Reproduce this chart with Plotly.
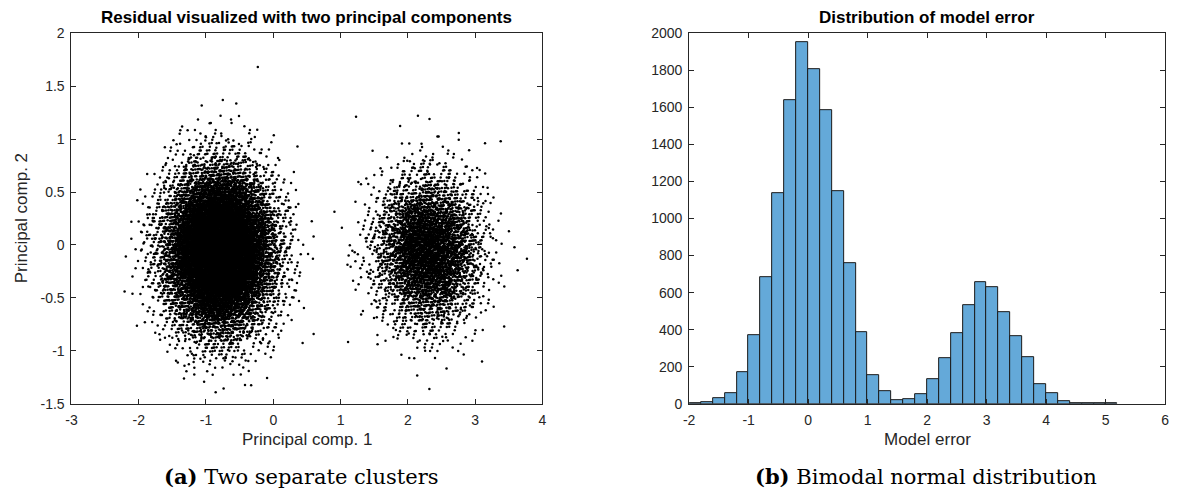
import plotly.graph_objects as go

# ---------------- (a) residual in the first two principal components ----------------
# Point counts per 0.2 x 0.2 cell, read off the cloud. Rows run top to bottom;
# pc2_row_bottoms gives the lower edge of each row of cells.
pc2_row_bottoms = [1.15, 0.95, 0.75, 0.55, 0.35, 0.15, -0.05, -0.25, -0.45, -0.65, -0.85, -1.05, -1.25, -1.45]

left_cluster_cols = [-2.2, -2.0, -1.8, -1.6, -1.4, -1.2, -1.0, -0.8, -0.6, -0.4, -0.2, 0.0, 0.2, 0.4]
left_cluster_counts = [
    [0, 0, 0, 0, 1, 1, 1, 1, 1, 0, 0, 0, 0, 0],
    [0, 0, 0, 1, 3, 4, 6, 5, 4, 2, 1, 0, 0, 0],
    [0, 0, 2, 5, 11, 18, 26, 24, 20, 11, 5, 2, 0, 0],
    [0, 1, 6, 17, 36, 65, 82, 85, 62, 38, 16, 5, 1, 0],
    [1, 4, 13, 41, 90, 159, 204, 209, 154, 92, 40, 14, 3, 1],
    [1, 6, 25, 73, 168, 283, 378, 371, 290, 163, 76, 24, 7, 1],
    [2, 9, 33, 102, 222, 391, 505, 512, 384, 228, 98, 35, 8, 2],
    [2, 8, 35, 98, 229, 384, 511, 503, 392, 221, 102, 32, 9, 1],
    [1, 7, 24, 76, 163, 289, 372, 379, 282, 168, 72, 26, 6, 1],
    [1, 3, 14, 41, 92, 155, 209, 203, 159, 89, 41, 13, 4, 1],
    [0, 2, 6, 17, 38, 62, 85, 81, 65, 36, 17, 5, 1, 0],
    [0, 0, 2, 5, 11, 20, 24, 26, 18, 11, 5, 2, 1, 0],
    [0, 0, 0, 1, 3, 4, 5, 6, 4, 2, 1, 0, 0, 0],
    [0, 0, 0, 0, 0, 1, 1, 1, 1, 0, 0, 0, 0, 0],
]

right_cluster_cols = [1.0, 1.2, 1.4, 1.6, 1.8, 2.0, 2.2, 2.4, 2.6, 2.8, 3.0, 3.2, 3.4, 3.6]
right_cluster_counts = [
    [0, 0, 0, 0, 0, 0, 0, 0, 0, 0, 0, 0, 0, 0],
    [0, 0, 0, 0, 1, 1, 1, 1, 1, 0, 0, 0, 0, 0],
    [0, 0, 1, 1, 3, 5, 6, 5, 3, 2, 1, 0, 0, 0],
    [0, 1, 2, 6, 13, 19, 24, 20, 12, 7, 2, 1, 0, 0],
    [0, 2, 6, 17, 39, 58, 70, 57, 39, 18, 7, 2, 0, 0],
    [1, 3, 12, 37, 76, 122, 138, 121, 78, 35, 14, 3, 1, 0],
    [1, 5, 19, 50, 111, 169, 201, 172, 107, 52, 17, 5, 1, 0],
    [1, 5, 17, 52, 107, 173, 197, 170, 111, 50, 19, 5, 1, 0],
    [1, 3, 13, 35, 78, 118, 142, 119, 76, 37, 12, 3, 1, 0],
    [0, 2, 6, 18, 37, 60, 68, 60, 39, 17, 6, 2, 0, 0],
    [0, 1, 2, 6, 13, 21, 22, 19, 14, 6, 2, 1, 0, 0],
    [0, 0, 1, 1, 3, 5, 6, 5, 3, 1, 1, 0, 0, 0],
    [0, 0, 0, 0, 1, 1, 1, 1, 0, 0, 0, 0, 0, 0],
    [0, 0, 0, 0, 0, 0, 0, 0, 0, 0, 0, 0, 0, 0],
]

# Isolated points away from both clouds
stray_pc1 = [-0.23, -0.75, -0.55, 0.36, -2.21, 0.60, 1.12, 1.23, 2.15, 3.38, 3.77, 2.32]
stray_pc2 = [1.68, 1.37, 1.335, 0.93, -0.44, -0.84, -0.10, 1.21, 1.22, 0.98, -0.13, -1.36]

CELL = 0.2
# steps of the 4-d additive lattice (generalised golden ratio for d = 4)
_G = 1.1673039782614187
STEPS = [1 / _G ** k for k in range(1, 5)]


def spread_cells(col_lefts, counts, seed):
    """Spread the counted points of each cell over a tent-shaped footprint
    centred on the cell, so neighbouring cells blend without hard edges."""
    xs, ys = [], []
    k = seed
    for r, row in enumerate(counts):
        yc = pc2_row_bottoms[r] + CELL / 2
        for c, n in enumerate(row):
            xc = col_lefts[c] + CELL / 2
            for _ in range(n):
                k += 1
                u = [(0.5 + k * s) % 1.0 for s in STEPS]
                xs.append(xc + CELL * (u[0] + u[1] - 1.0))
                ys.append(yc + CELL * (u[2] + u[3] - 1.0))
    return xs, ys


lx, ly = spread_cells(left_cluster_cols, left_cluster_counts, 0)
rx, ry = spread_cells(right_cluster_cols, right_cluster_counts, 50000)
pc1 = lx + rx + stray_pc1
pc2 = ly + ry + stray_pc2

# ---------------- (b) histogram of the model error ----------------
error_bin_lefts = [-2.0, -1.8, -1.6, -1.4, -1.2, -1.0, -0.8, -0.6, -0.4, -0.2,
                   0.0, 0.2, 0.4, 0.6, 0.8, 1.0, 1.2, 1.4, 1.6, 1.8,
                   2.0, 2.2, 2.4, 2.6, 2.8, 3.0, 3.2, 3.4, 3.6, 3.8,
                   4.0, 4.2, 4.4, 4.6, 4.8, 5.0]
error_counts = [4, 9, 29, 55, 173, 371, 682, 1136, 1641, 1952,
                1807, 1586, 1146, 757, 389, 157, 68, 20, 23, 54,
                134, 246, 379, 530, 659, 632, 496, 366, 252, 104,
                59, 14, 5, 2, 2, 1]
error_bin_width = 0.2
error_bin_centers = [b + error_bin_width / 2 for b in error_bin_lefts]

# Tick labels (plain hyphen minus signs)
pc1_ticks = [-3, -2, -1, 0, 1, 2, 3, 4]
pc1_ticktext = ["-3", "-2", "-1", "0", "1", "2", "3", "4"]
pc2_ticks = [-1.5, -1, -0.5, 0, 0.5, 1, 1.5, 2]
pc2_ticktext = ["-1.5", "-1", "-0.5", "0", "0.5", "1", "1.5", "2"]
err_ticks = [-2, -1, 0, 1, 2, 3, 4, 5, 6]
err_ticktext = ["-2", "-1", "0", "1", "2", "3", "4", "5", "6"]
count_ticks = list(range(0, 2001, 200))
count_ticktext = [str(v) for v in count_ticks]

W, H = 1177, 496
SANS = "Liberation Sans, Arial, Helvetica, sans-serif"
SERIF = "DejaVu Serif, Liberation Serif, serif"
AX_COLOR = "#262626"

fig = go.Figure()
fig.add_trace(go.Scatter(
    x=pc1, y=pc2, mode="markers",
    marker=dict(size=2.5, color="black", line=dict(width=0)),
    xaxis="x", yaxis="y", hoverinfo="skip", showlegend=False,
))
fig.add_trace(go.Bar(
    x=error_bin_centers, y=error_counts, width=error_bin_width,
    marker=dict(color="#64a9d9", line=dict(color="#1a1a1a", width=1)),
    xaxis="x2", yaxis="y2", showlegend=False,
))

left_dom = [66 / W, 541 / W]
right_dom = [689 / W, 1169 / W]
y_dom = [1 - 409 / H, 1 - 26 / H]

axis_common = dict(
    showline=True, linecolor=AX_COLOR, linewidth=1, mirror="ticks",
    ticks="inside", ticklen=5, tickcolor=AX_COLOR, tickwidth=1,
    showgrid=False, zeroline=False, ticklabelstandoff=3,
    tickfont=dict(family=SANS, size=14, color=AX_COLOR),
)

fig.update_layout(
    width=W, height=H,
    margin=dict(l=0, r=0, t=0, b=0, pad=0),
    paper_bgcolor="white", plot_bgcolor="white",
    bargap=0,
    xaxis=dict(domain=left_dom, range=[-3, 4], tickvals=pc1_ticks, ticktext=pc1_ticktext,
               anchor="y", **axis_common),
    yaxis=dict(domain=y_dom, range=[-1.5, 2], tickvals=pc2_ticks, ticktext=pc2_ticktext,
               anchor="x", **axis_common),
    xaxis2=dict(domain=right_dom, range=[-2, 6], tickvals=err_ticks, ticktext=err_ticktext,
                anchor="y2", **axis_common),
    yaxis2=dict(domain=y_dom, range=[0, 2000], tickvals=count_ticks, ticktext=count_ticktext,
                anchor="x2", **axis_common),
)


def px_x(v):
    return v / W


def px_y(v):
    return 1 - v / H


left_mid = (left_dom[0] + left_dom[1]) / 2
right_mid = (right_dom[0] + right_dom[1]) / 2
notes = [
    dict(text="<b>Residual visualized with two principal components</b>",
         x=left_mid, y=px_y(10), size=17, font=SANS, color="black"),
    dict(text="<b>Distribution of model error</b>",
         x=right_mid, y=px_y(10), size=17, font=SANS, color="black"),
    dict(text="Principal comp. 1", x=left_mid, y=px_y(446),
         size=17, font=SANS, color=AX_COLOR),
    dict(text="Model error", x=right_mid, y=px_y(446),
         size=17, font=SANS, color=AX_COLOR),
    dict(text="<b>(a)</b> Two separate clusters", x=px_x(298), y=px_y(484),
         size=21, font=SERIF, color="black"),
    dict(text="<b>(b)</b> Bimodal normal distribution", x=px_x(928),
         y=px_y(484), size=21, font=SERIF, color="black"),
]
for n in notes:
    fig.add_annotation(text=n["text"], x=n["x"], y=n["y"], xref="paper", yref="paper",
                       xanchor="center", yanchor="middle", showarrow=False,
                       font=dict(family=n["font"], size=n["size"], color=n["color"]))

fig.add_annotation(text="Principal comp. 2", x=px_x(16), y=(y_dom[0] + y_dom[1]) / 2,
                   xref="paper", yref="paper", xanchor="center", yanchor="middle",
                   textangle=-90, showarrow=False,
                   font=dict(family=SANS, size=17, color=AX_COLOR))

fig.write_html("out.html")
